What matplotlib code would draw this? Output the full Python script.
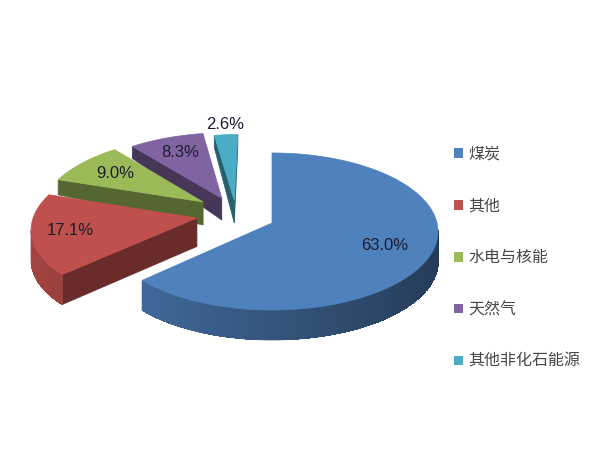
import numpy as np
import matplotlib
matplotlib.use("Agg")
import matplotlib.pyplot as plt
from matplotlib.patches import Polygon, Patch
from matplotlib.colors import to_rgb

plt.rcParams['font.family'] = ['Liberation Sans', 'Noto Sans CJK SC', 'DejaVu Sans']

# data
labels = ['煤炭', '其他', '水电与核能', '天然气', '其他非化石能源']
shares = [63.0, 17.1, 9.0, 8.3, 2.6]
colors = ['#4F81BD', '#C0504D', '#9BBB59', '#8064A2', '#4BACC6']

# fake-3D geometry (screen pixels, y down)
CX, CY = 272, 223          # pie centre
RX, RY = 165, 77.6         # ellipse radii
K = 0.108                  # perspective: back shrinks, front grows
offsets = [(0.0, 0.0), (-0.458, 0.064), (-0.43, 0.279), (-0.315, 0.33), (-0.236, 0.30)]
label_r = [0.72, 0.77, 0.72, 0.74, 1.18]


def depth(y):
    return np.clip(30 - 25 * np.asarray(y), 12, 30)


def proj(x, y, bottom=False):
    x = np.asarray(x, float)
    y = np.asarray(y, float)
    s = 1.0 / (1.0 + K * y)
    X = CX + RX * x * s
    Y = CY - RY * y * s
    if bottom:
        Y = Y + depth(y)
    return X, Y


fig = plt.figure(figsize=(6, 4.5), dpi=100)
ax = fig.add_axes([0, 0, 1, 1])
ax.set_xlim(0, 600)
ax.set_ylim(450, 0)
ax.axis('off')

frac = np.array(shares) / np.sum(shares)
cum = np.cumsum(frac)
ends = 90 - 360 * cum
starts = ends + 360 * frac

z = 1
for i in [4, 3, 2, 1, 0]:
    a0, a1 = ends[i], starts[i]
    n = max(int((a1 - a0) / 1.0), 4)
    th = np.radians(np.linspace(a0, a1, n))
    ox, oy = offsets[i]
    xs = np.concatenate([[ox], ox + np.cos(th)])
    ys = np.concatenate([[oy], oy + np.sin(th)])
    Xt, Yt = proj(xs, ys)
    Xb, Yb = proj(xs, ys, bottom=True)
    base = np.array(to_rgb(colors[i]))
    m = len(xs)

    # visible side faces: radial ones flat, arc wall as one base + gradient strips
    arc_idx = []
    for j in range(m):
        k = (j + 1) % m
        if Xt[k] <= Xt[j] + 1e-9:
            continue
        if j == 0 or j == m - 1:
            col = np.clip(base * 0.55, 0, 1)
            quad = [(Xt[j], Yt[j]), (Xt[k], Yt[k]), (Xb[k], Yb[k]), (Xb[j], Yb[j])]
            ax.add_patch(Polygon(quad, closed=True, facecolor=col, edgecolor=col,
                                 lw=0.5, zorder=z))
        else:
            arc_idx.append(j)
    if arc_idx:
        js = np.array(arc_idx + [arc_idx[-1] + 1])
        wall = np.column_stack([np.r_[Xt[js], Xb[js][::-1]], np.r_[Yt[js], Yb[js][::-1]]])
        midcol = np.clip(base * 0.62, 0, 1)
        ax.add_patch(Polygon(wall, closed=True, facecolor=midcol, edgecolor=midcol,
                             lw=0.5, zorder=z))
        for j in arc_idx:
            k = j + 1
            amid = 0.5 * (th[j - 1] + th[j])
            col = np.clip(base * (0.66 - 0.2 * np.cos(amid)), 0, 1)
            quad = [(Xt[j], Yt[j]), (Xt[k] + 0.4, Yt[k]), (Xb[k] + 0.4, Yb[k]), (Xb[j], Yb[j])]
            ax.add_patch(Polygon(quad, closed=True, facecolor=col, edgecolor='none',
                                 lw=0, antialiased=False, zorder=z + 0.5))
    z += 1
    ax.add_patch(Polygon(np.column_stack([Xt, Yt]), closed=True,
                         facecolor=colors[i], edgecolor=colors[i], lw=0.5, zorder=z))
    z += 1

# percentage labels
for i, v in enumerate(shares):
    amid = np.radians(0.5 * (ends[i] + starts[i]))
    ox, oy = offsets[i]
    lx, ly = proj(ox + label_r[i] * np.cos(amid), oy + label_r[i] * np.sin(amid))
    ax.text(lx, ly, f"{v:.1f}%", ha='center', va='center', fontsize=12,
            color='#1c1c30', zorder=50)

handles = [Patch(facecolor=c, edgecolor='none') for c in colors]
fig.legend(handles, labels, loc='center left',
           bbox_to_anchor=(454 / 600, (450 - 258) / 450),
           frameon=False, fontsize=11.5, labelspacing=2.3,
           handlelength=0.55, handleheight=0.55, handletextpad=0.35,
           borderaxespad=0, borderpad=0, labelcolor='#484848')

fig.savefig('out.png', dpi=100, facecolor='white')
